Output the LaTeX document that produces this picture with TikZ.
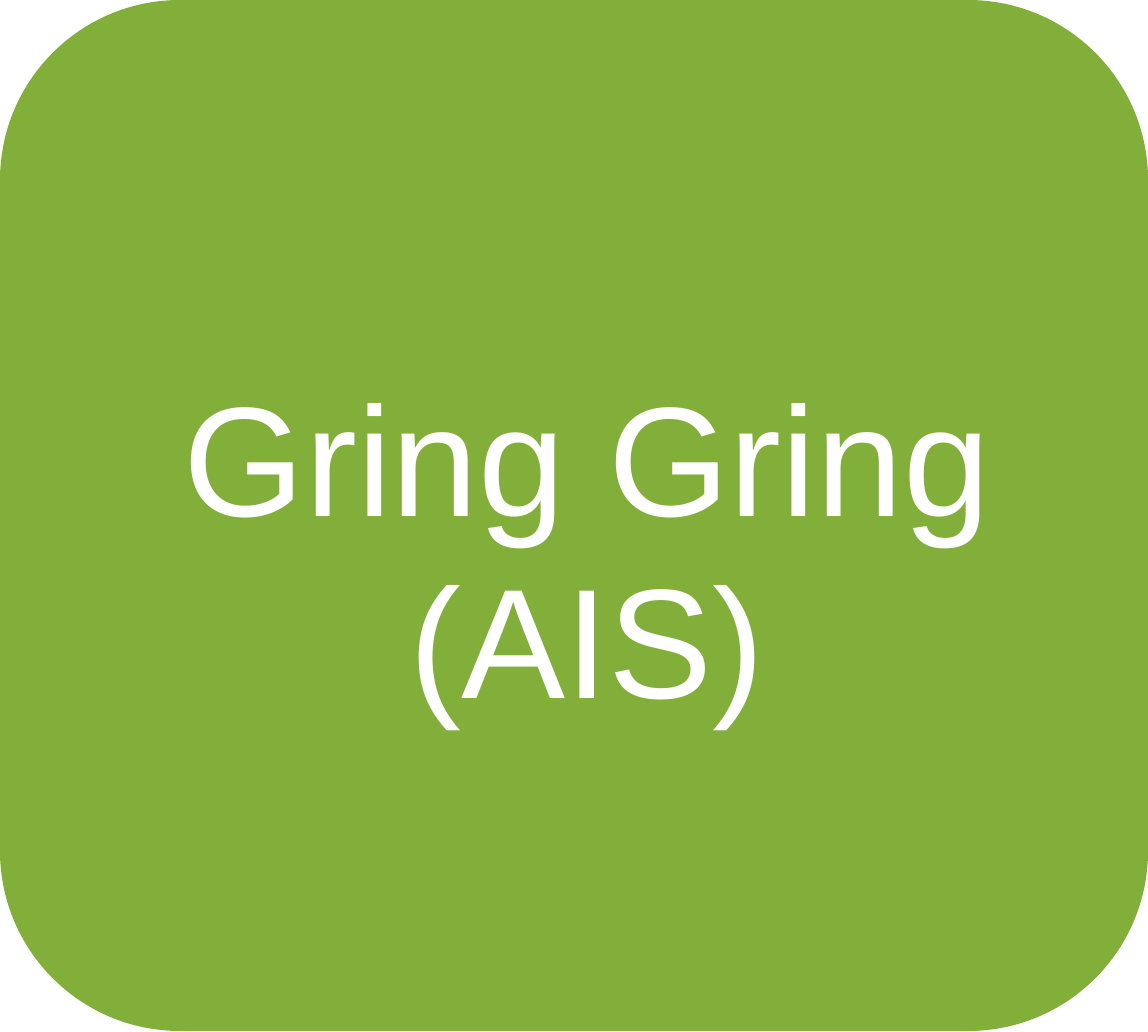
\documentclass[tikz,border=0pt]{standalone}
\usepackage{fontspec}
\setmainfont{Liberation Sans}
\usepackage{xcolor}
\usetikzlibrary{positioning, calc}
\definecolor{aisgreen}{HTML}{82AE3A}

\tikzset{
  card/.style={fill=aisgreen, draw=none, rounded corners=180pt, inner sep=0pt,
    minimum width=1148pt, minimum height=1031pt},
  cardtext/.style={text=white, align=center, inner sep=0pt,
    font=\fontsize{156}{182}\selectfont}
}

\begin{document}
\begin{tikzpicture}[x=1pt,y=1pt]

        % Green card
        \node[card] (card) at (574,515.5) {};

        % Label (last baseline placed at y = 332)
        \node[cardtext, anchor=base] (label) at (587,332) {Gring Gring\\(AIS)};

        \useasboundingbox (0,0) rectangle (1148,1031);

\end{tikzpicture}
\end{document}
